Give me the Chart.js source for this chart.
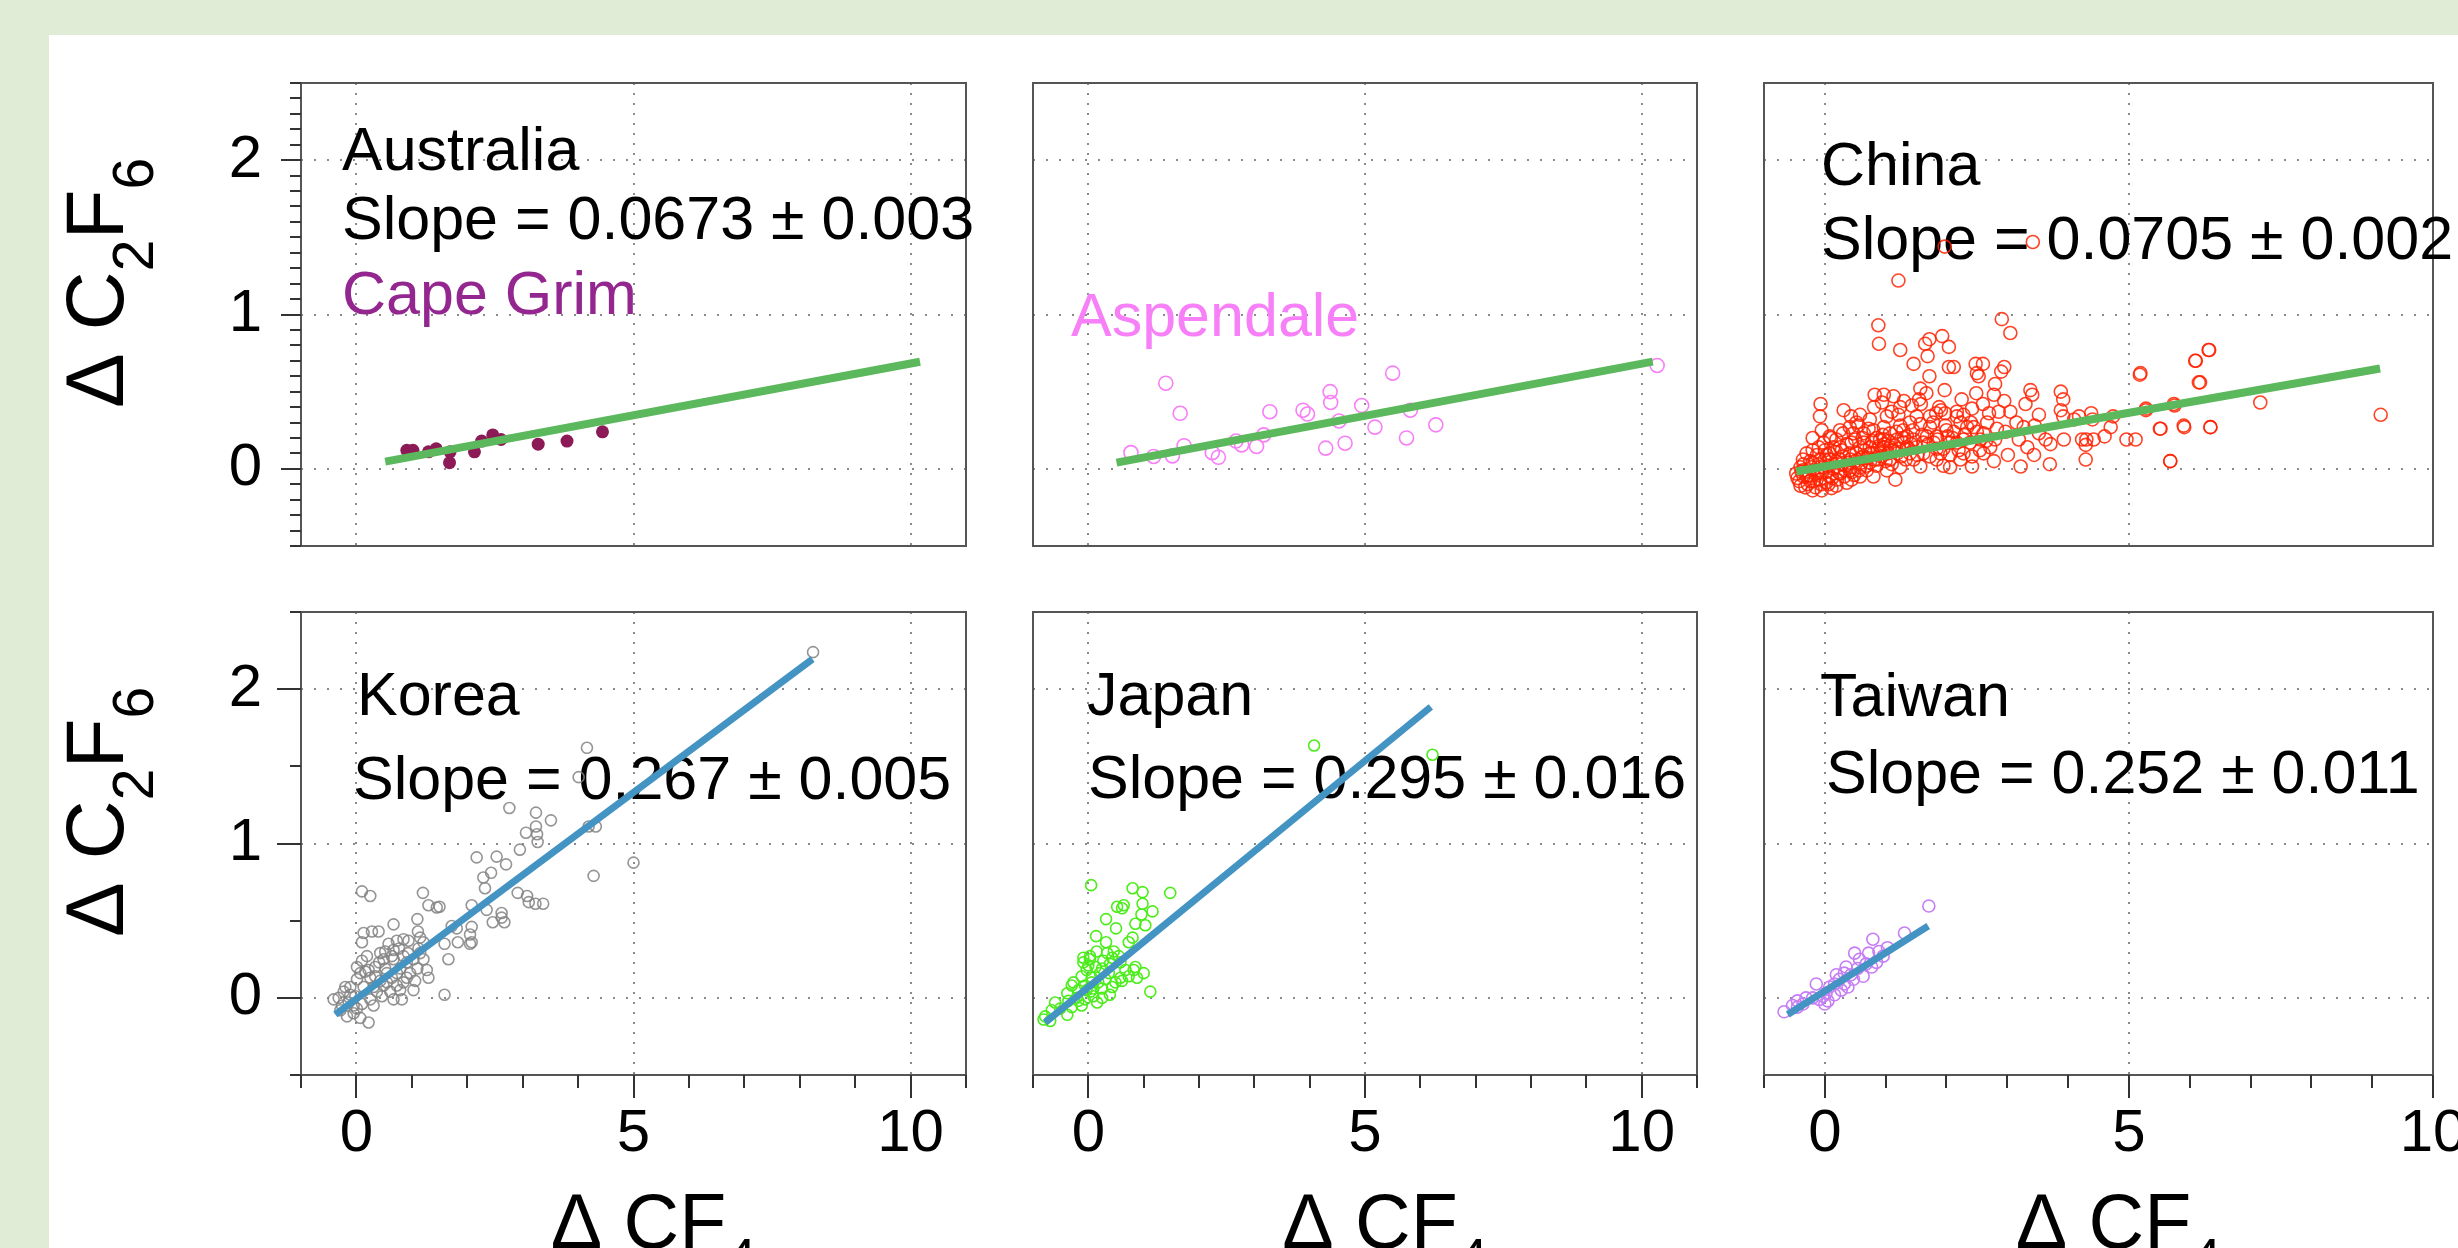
<!DOCTYPE html>
<html>
<head>
<meta charset="utf-8">
<script src="https://cdn.jsdelivr.net/npm/chart.js@4.4.1/dist/chart.umd.min.js"></script>
<style>
  html, body { margin: 0; padding: 0; }
  body { width: 2458px; height: 1248px; background: #e1ecd6; position: relative; overflow: hidden; }
  #sheet { position: absolute; left: 49px; top: 35px; right: 0; bottom: 0; background: #fff; }
  canvas { position: absolute; }
</style>
</head>
<body>
<div id="sheet"></div>
<script>
// values: [ΔCF4, ΔC2F6]
const australiaPoints = [[0.91,0.12],[1.02,0.12],[1.30,0.11],[1.44,0.13],[1.68,0.04],[1.69,0.11],[2.13,0.11],
  [2.26,0.18],[2.46,0.22],[2.61,0.19],[3.28,0.16],[3.80,0.18],[4.44,0.24]];

const aspendalePoints = [[0.77,0.105],[1.18,0.08],[1.52,0.084],[1.40,0.555],[1.66,0.36],[1.73,0.15],[2.24,0.105],
  [2.35,0.075],[2.67,0.18],[2.77,0.155],[3.04,0.145],[3.17,0.22],[3.28,0.37],[3.88,0.38],[3.96,0.355],[4.29,0.134],
  [4.37,0.50],[4.38,0.43],[4.53,0.31],[4.64,0.166],[4.94,0.41],[5.18,0.27],[5.50,0.62],[5.75,0.20],[5.82,0.38],
  [6.28,0.285],[10.28,0.67]];

const chinaPoints = [[1.21,1.22],[3.42,1.47],[1.97,1.44],[9.14,0.35],[7.16,0.43],[6.31,0.77],[6.10,0.70],[6.17,0.56],
  [5.90,0.28],[6.34,0.27],[5.51,0.26],[5.68,0.05],[5.19,0.62],[5.75,0.41],[5.28,0.39],
  [0.88,0.93],[0.89,0.81],[1.24,0.77],[1.46,0.68],[1.65,0.81],[1.72,0.84],[1.93,0.86],[2.04,0.79],[1.69,0.73],
  [1.72,0.60],[2.04,0.66],[2.12,0.66],[1.97,0.51],[2.48,0.68],[2.60,0.68],[2.50,0.62],[2.53,0.60],[2.91,0.97],
  [3.05,0.88],[2.95,0.66],[2.90,0.63],[2.80,0.55],[2.49,0.49],[2.78,0.48],[1.57,0.52],[1.67,0.49],[0.82,0.48],
  [0.97,0.48],[1.13,0.47],[-0.07,0.42],[-0.08,0.34],[-0.05,0.25],[-0.20,0.20],[0.31,0.38],[0.43,0.34],[0.58,0.35],
  [0.81,0.40],[0.94,0.43],[1.24,0.40],[1.21,0.35],[1.10,0.37],[1.43,0.41],[1.58,0.42],[1.91,0.38],[1.98,0.36],
  [1.83,0.36],[2.17,0.37],[2.28,0.35],[2.42,0.39],[2.86,0.37],[3.05,0.37],[3.30,0.42],[3.38,0.51],[3.41,0.48],
  [3.52,0.35],[3.88,0.50],[3.92,0.45],[3.88,0.38],[3.92,0.34],[4.10,0.32],[4.18,0.34],[4.38,0.36],[4.40,0.32],
  [4.74,0.34],[4.70,0.27],[4.60,0.21],[4.42,0.19],[4.30,0.19],[4.29,0.155],[4.23,0.19],[4.29,0.06],[4.96,0.19],
  [5.11,0.19],[5.18,0.61],[5.28,0.38],[5.52,0.26],[5.68,0.05],[5.74,0.42],[5.91,0.27],[6.09,0.70],[6.15,0.56],
  [6.32,0.77],[6.34,0.27],[3.93,0.19],[3.71,0.16],[3.70,0.03],[3.63,0.19],[3.44,0.09],[3.33,0.14],[3.22,0.015],
  [3.19,0.19],[3.01,0.09],[2.83,0.26],[2.97,0.24],[3.27,0.27],[3.52,0.23],[2.80,0.19],[2.72,0.14],[2.78,0.05],
  [2.61,0.10],[2.42,0.015],[2.42,0.08],[2.23,0.06],[2.06,0.09],[1.95,0.02],[1.73,0.08],[1.57,0.015],[1.46,0.06],
  [1.35,0.14],[1.19,0.10],[1.16,-0.07],[1.02,-0.01],[0.88,0.06],[0.80,-0.05],[0.69,-0.01],[0.58,0.07],[0.44,-0.07],
  [0.33,-0.01],[0.25,0.06],[0.11,-0.125],[-0.05,-0.14],[-0.20,-0.14],[-0.40,-0.11],[-0.47,-0.03],[-0.36,-0.01],
  [-0.24,0.05],[-0.13,0.09],[0.00,0.12],[0.14,0.14],[0.36,0.16],[0.50,0.19],[0.64,0.23],[0.80,0.25],[0.97,0.27],
  [1.07,0.23],[1.29,0.25],[1.40,0.30],[1.57,0.29],[1.73,0.27],[1.84,0.21],[1.98,0.28],[2.12,0.24],[2.23,0.30],
  [2.34,0.27],[2.50,0.24],[2.56,0.19],[2.28,0.19],[2.06,0.17],[1.84,0.13],[1.62,0.17],[1.46,0.19],[1.29,0.17],
  [1.07,0.14],[0.91,0.19],[0.74,0.14],[0.58,0.14],[0.41,0.10],[0.25,0.14],[0.08,0.06],[-0.02,0.01],[-0.13,-0.03],
  [-0.30,-0.05],[-0.40,0.01],[-0.24,-0.08],[-0.08,-0.07],[0.08,-0.05],[0.25,-0.03],[0.41,-0.01],[0.58,0.01],
  [0.74,0.04],[0.91,0.10],[1.07,0.06],[1.24,0.01],[1.40,0.10],[1.62,0.10],[1.84,0.06],[2.06,0.01],[2.28,0.10],
  [0.58,-0.05],[0.36,-0.09],[0.19,-0.11],[0.02,-0.09],[-0.20,-0.01],[-0.08,0.06],[0.08,0.10],[0.19,0.19],
  [0.08,0.21],[0.30,0.23],[0.41,0.27],[0.52,0.30],[0.74,0.32],[0.85,0.20],[0.47,0.23],[0.64,0.17],[0.80,0.10],
  [0.97,0.14],[1.19,0.19],[1.24,0.28],[1.35,0.21],[1.51,0.14],[1.68,0.21],[1.79,0.17],[1.90,0.10],[2.02,0.21],
  [2.17,0.17],[2.39,0.17],[2.45,0.27],[2.61,0.23],[2.67,0.30],[2.17,0.34],[1.73,0.34],[1.51,0.34],[1.02,0.34],
  [0.97,0.19],[-0.02,0.17],[-0.20,0.12],[-0.36,0.06],[-0.30,0.10],
  [-0.45,-0.06],[-0.35,0.03],[-0.28,-0.10],[-0.15,-0.12],[-0.05,-0.03],[0.05,0.02],[0.12,-0.06],[0.18,0.05],
  [0.22,-0.02],[0.30,0.08],[0.35,0.02],[0.42,0.06],[0.48,-0.04],[0.52,0.10],[0.60,0.04],[0.66,0.12],[0.70,0.07],
  [0.78,0.18],[0.85,0.02],[0.90,0.15],[0.95,0.22],[1.00,0.05],[1.05,0.18],[1.12,0.12],[1.18,0.24],[1.25,0.08],
  [1.30,0.20],[1.38,0.13],[1.45,0.25],[1.52,0.09],[1.60,0.22],[1.70,0.16],[1.78,0.30],[1.85,0.19],[1.95,0.13],
  [2.00,0.25],[2.10,0.20],[2.20,0.12],[2.30,0.22],[2.40,0.30],[2.55,0.12],[2.65,0.18],[-0.10,0.14],[0.00,0.06],
  [-0.20,0.04],[0.10,0.20],[0.25,0.25],[0.55,0.28],
  [-0.42,-0.08],[-0.38,-0.02],[-0.32,-0.12],[-0.25,-0.04],[-0.18,-0.08],[-0.12,-0.01],[-0.06,-0.10],[0.02,-0.02],
  [0.06,-0.10],[0.14,0.00],[0.20,-0.07],[0.27,0.03],[0.32,-0.05],[0.39,0.04],[0.45,-0.02],[0.50,0.05],[0.56,-0.01],
  [0.63,0.08],[0.68,0.02],[0.75,0.10],[0.82,0.06],[0.87,0.13],[0.93,0.08],[0.98,0.16],[1.04,0.10],[1.10,0.03],
  [1.15,0.15],[1.22,0.13],[1.33,0.06],[1.42,0.16],[-0.35,-0.05],[-0.22,0.01],[-0.10,0.03],[0.03,0.09],[0.16,0.11],
  [0.28,0.12],[0.44,0.17],[0.62,0.20],[0.72,0.26],[1.88,0.40],[2.25,0.45],[2.60,0.42],[2.95,0.44],[3.15,0.30],
  [1.55,0.45],[1.30,0.44],[2.70,0.36],[3.45,0.28]];

const koreaPoints = [[8.24,2.24],[4.16,1.62],[4.01,1.43],[5.00,0.876],[4.28,0.79],[4.19,1.11],[4.32,1.11],[2.76,1.23],
  [3.24,1.20],[3.51,1.15],[3.24,1.11],[3.06,1.07],[3.26,1.06],[3.27,1.01],[2.95,0.96],[2.53,0.915],[2.17,0.91],
  [2.70,0.865],[2.43,0.81],[2.29,0.78],[2.32,0.71],[2.91,0.68],[3.08,0.66],[3.11,0.62],[3.23,0.61],[3.37,0.61],
  [0.10,0.69],[0.25,0.66],[1.20,0.68],[1.30,0.60],[1.45,0.585],[1.50,0.59],[2.08,0.60],[2.35,0.57],[2.62,0.55],
  [2.46,0.49],[2.67,0.49],[2.62,0.52],[1.10,0.51],[0.67,0.476],[1.72,0.465],[1.81,0.45],[2.08,0.46],[2.05,0.41],
  [2.08,0.36],[0.13,0.42],[0.28,0.43],[0.40,0.43],[0.10,0.36],[0.85,0.38],[1.11,0.43],[1.15,0.39],[1.21,0.36],
  [1.59,0.35],[1.83,0.36],[2.05,0.35],[1.66,0.25],[1.59,0.02],[1.30,0.13],[1.27,0.18],[1.21,0.25],[1.10,0.19],
  [0.93,0.29],[0.77,0.32],[0.67,0.31],[0.64,0.27],[0.52,0.30],[0.49,0.25],[0.41,0.23],[0.19,0.27],[0.10,0.24],
  [0.01,0.20],[0.07,0.16],[0.22,0.18],[0.34,0.14],[0.55,0.16],[0.79,0.19],[0.91,0.13],[1.06,0.11],[0.79,0.05],
  [0.82,-0.01],[0.61,0.04],[0.49,0.08],[0.37,0.04],[0.25,-0.01],[0.22,-0.16],[0.07,-0.13],[-0.05,-0.10],
  [-0.17,-0.12],[-0.29,-0.08],[-0.41,-0.01],[-0.32,0.00],[-0.23,0.04],[-0.11,0.07],[-0.14,-0.03],[-0.02,0.01],
  [0.10,-0.04],[-0.05,-0.05],[-0.26,-0.05],[0.13,0.07],[0.31,0.07],[0.43,0.11],[0.55,0.10],[0.64,0.13],[0.73,0.16],
  [0.91,0.23],[1.03,0.25],[1.15,0.29],[0.97,0.16],[0.85,0.10],[0.67,-0.01],[0.46,0.01],[0.31,-0.05],[0.01,-0.07],
  [-0.11,0.02],[-0.20,0.07],[0.25,0.13],[0.01,0.12],[0.16,0.17],[0.34,0.20],[0.43,0.29],[0.58,0.35],[0.73,0.37],
  [0.94,0.37],[1.12,0.32],[0.67,0.25],[0.85,0.27],[0.52,0.19],[1.03,0.05],[0.73,0.08]];

const japanPoints = [[4.08,1.635],[6.22,1.575],[0.05,0.73],[0.80,0.71],[0.98,0.685],[1.48,0.68],[0.52,0.59],[0.64,0.60],
  [0.61,0.58],[0.98,0.61],[0.96,0.54],[1.16,0.56],[0.32,0.51],[0.85,0.48],[1.03,0.47],[0.50,0.45],[0.14,0.40],
  [0.80,0.39],[0.32,0.36],[0.73,0.36],[0.46,0.30],[0.55,0.27],[0.03,0.25],[-0.09,0.23],[0.27,0.24],[0.39,0.22],
  [-0.03,0.18],[0.85,0.20],[0.82,0.18],[1.00,0.16],[0.88,0.13],[0.73,0.14],[0.58,0.13],[0.49,0.10],[1.12,0.04],
  [0.39,0.02],[0.21,0.16],[0.06,0.13],[-0.12,0.14],[-0.27,0.10],[-0.38,0.03],[-0.30,0.08],[-0.18,0.05],[-0.06,0.08],
  [0.09,0.06],[0.18,0.10],[0.31,0.12],[0.37,0.16],[0.13,0.20],[0.00,0.21],[0.25,0.19],[0.09,0.01],[-0.06,-0.01],
  [-0.12,-0.05],[0.25,0.00],[0.16,-0.03],[0.04,0.04],[-0.21,0.00],[-0.36,-0.02],[-0.60,-0.03],[-0.51,-0.07],
  [-0.66,-0.08],[-0.78,-0.12],[-0.81,-0.14],[-0.69,-0.15],[-0.38,-0.11],[-0.30,-0.06],[-0.18,-0.02],[-0.03,0.05],
  [0.06,0.10],[0.25,0.06],[0.43,0.07],[0.61,0.11],[0.67,0.18],[0.58,0.23],[0.43,0.26],[0.03,0.27],[-0.09,0.26],
  [0.15,0.30],[0.34,0.29]];

const taiwanPoints = [[1.71,0.595],[1.31,0.42],[0.79,0.38],[1.03,0.325],[0.89,0.30],[0.72,0.29],[0.49,0.29],[0.57,0.25],
  [0.85,0.23],[0.77,0.20],[0.96,0.27],[0.35,0.20],[0.54,0.19],[0.43,0.15],[0.32,0.16],[0.19,0.15],[0.24,0.12],
  [0.38,0.07],[0.32,0.09],[0.16,0.09],[0.08,0.07],[0.02,0.03],[-0.14,0.09],[-0.03,0.01],[0.05,-0.02],[0.00,-0.04],
  [-0.09,-0.01],[-0.20,0.00],[-0.31,0.00],[-0.36,-0.04],[-0.45,-0.02],[-0.53,-0.05],[-0.67,-0.09],[-0.45,-0.06],
  [0.16,0.02],[0.27,0.05],[0.47,0.12],[0.63,0.14],[0.68,0.22]];

// regression lines as drawn: [start, end]
const australiaFitX = [0.52, 10.17], australiaFitY = [0.047, 0.694];
const aspendaleFitX = [0.51, 10.20], aspendaleFitY = [0.040, 0.695];
const chinaFitX = [-0.47, 9.13], chinaFitY = [-0.017, 0.650];
const koreaFitX = [-0.38, 8.23], koreaFitY = [-0.108, 2.195];
const japanFitX = [-0.78, 6.19], japanFitY = [-0.160, 1.885];
const taiwanFitX = [-0.61, 1.70], taiwanFitY = [-0.108, 0.465];

const regionNames = ['Australia', 'China', 'Korea', 'Japan', 'Taiwan'];
const stationNames = ['Cape Grim', 'Aspendale'];
const slopeTexts = ['Slope = 0.0673 \u00b1 0.003', 'Slope = 0.0705 \u00b1 0.002', 'Slope = 0.267 \u00b1 0.005',
  'Slope = 0.295 \u00b1 0.016', 'Slope = 0.252 \u00b1 0.011'];

const xTickLabels = [0, 5, 10];
const yTickLabels = [0, 1, 2];
const xTitleParts = [['\u0394 CF', false], ['4', true]];
const yTitleParts = [['\u0394 C', false], ['2', true], ['F', false], ['6', true]];

const FONT = '"Liberation Sans", Arial, Helvetica, sans-serif';
const GREEN = '#5cb85c', BLUE = '#4393c3';

// text with lowered small digits; align 'center' or 'left' at x
function drawSub(ctx, parts, x, base, size, align) {
  const sub = Math.round(size * 0.7), drop = size * 0.36;
  const fontOf = s => (s ? sub : size) + 'px ' + FONT;
  let total = 0;
  parts.forEach(([t, s]) => { ctx.font = fontOf(s); total += ctx.measureText(t).width; });
  if (align === 'center') x -= total / 2;
  ctx.fillStyle = '#000';
  ctx.textAlign = 'left';
  ctx.textBaseline = 'alphabetic';
  parts.forEach(([t, s]) => {
    ctx.font = fontOf(s);
    ctx.fillText(t, x, base + (s ? drop : 0));
    x += ctx.measureText(t).width;
  });
}

// box, dotted grid, tick marks, notes and axis titles (under the data)
const framePlugin = {
  id: 'frame',
  beforeDatasetsDraw(chart, args, o) {
    const ctx = chart.ctx, a = chart.chartArea;
    const xs = chart.scales.x, ys = chart.scales.y;
    const seg = (x1, y1, x2, y2) => { ctx.beginPath(); ctx.moveTo(x1, y1); ctx.lineTo(x2, y2); ctx.stroke(); };
    ctx.save();
    ctx.strokeStyle = '#8a8a8a';
    ctx.lineWidth = 2;
    ctx.setLineDash([2, 11]);
    yTickLabels.forEach(v => { const p = Math.round(ys.getPixelForValue(v)); seg(a.left, p, a.right, p); });
    ctx.setLineDash([2, 8]);
    xTickLabels.forEach(v => {
      const p = Math.round(xs.getPixelForValue(v));
      if (p < a.right - 3) seg(p, a.top, p, a.bottom);
    });
    ctx.setLineDash([]);

    ctx.strokeStyle = '#555';
    ctx.strokeRect(a.left, a.top, a.right - a.left, a.bottom - a.top);

    ctx.strokeStyle = '#333';
    if (o.yStep) {
      const n = Math.round((ys.max - ys.min) / o.yStep);
      for (let i = 0; i <= n; i++) {
        const v = ys.min + i * o.yStep;
        const major = Math.abs(v - Math.round(v)) < 1e-6;
        const p = Math.round(ys.getPixelForValue(v));
        seg(a.left, p, a.left - (major ? o.yMajor : 11), p);
      }
    }
    if (o.xTicks) {
      for (let v = xs.min; v <= xs.max; v++) {
        const p = Math.round(xs.getPixelForValue(v));
        seg(p, a.bottom, p, a.bottom + (v % 5 === 0 ? 23 : 13));
      }
    }

    ctx.font = '61px ' + FONT;
    ctx.textAlign = 'left';
    ctx.textBaseline = 'alphabetic';
    o.notes.forEach(n => {
      ctx.fillStyle = n.color || '#000';
      ctx.fillText(n.text, a.left + n.dx, a.top + n.by);
    });

    if (o.xTitle) drawSub(ctx, xTitleParts, (a.left + a.right) / 2 + 20, a.bottom + 173, 77, 'center');
    if (o.yTitle) {
      ctx.translate(a.left - 178, a.top + 325);
      ctx.rotate(-Math.PI / 2);
      drawSub(ctx, yTitleParts, 0, 0, 82, 'left');
    }
    ctx.restore();
  }
};

const cols = [
  { left: 301, width: 665, xMax: 11, L: 260, R: 70 },
  { left: 1033, width: 664, xMax: 11, L: 40, R: 40 },
  { left: 1764, width: 669, xMax: 10, L: 40, R: 25 }
];
const rows = [
  { top: 83, height: 463, T: 40, B: 40 },
  { top: 612, height: 463, T: 40, B: 173 }
];

const panels = [
  { col: 0, row: 0, pts: australiaPoints, color: '#8c1a56', filled: true, r: 6.5,
    fitX: australiaFitX, fitY: australiaFitY, fitColor: GREEN, fitWidth: 8, yStep: 0.1, yMajor: 20,
    notes: [{ text: regionNames[0], dx: 41, by: 87 }, { text: slopeTexts[0], dx: 41, by: 156 },
            { text: stationNames[0], dx: 41, by: 231, color: '#93268f' }] },
  { col: 1, row: 0, pts: aspendalePoints, color: '#f77ff7', filled: false, r: 7,
    fitX: aspendaleFitX, fitY: aspendaleFitY, fitColor: GREEN, fitWidth: 8,
    notes: [{ text: stationNames[1], dx: 38, by: 253, color: '#f77ff7' }] },
  { col: 2, row: 0, pts: chinaPoints, color: 'rgba(255,34,0,0.85)', filled: false, r: 6.5,
    fitX: chinaFitX, fitY: chinaFitY, fitColor: GREEN, fitWidth: 8,
    notes: [{ text: regionNames[1], dx: 57, by: 102 }, { text: slopeTexts[1], dx: 57, by: 176 }] },
  { col: 0, row: 1, pts: koreaPoints, color: 'rgba(130,130,130,0.85)', filled: false, r: 5.5,
    fitX: koreaFitX, fitY: koreaFitY, fitColor: BLUE, fitWidth: 7, yStep: 0.5, yMajor: 24,
    notes: [{ text: regionNames[2], dx: 56, by: 103 }, { text: slopeTexts[2], dx: 52, by: 187 }] },
  { col: 1, row: 1, pts: japanPoints, color: '#4ded1c', filled: false, r: 5.5,
    fitX: japanFitX, fitY: japanFitY, fitColor: BLUE, fitWidth: 7,
    notes: [{ text: regionNames[3], dx: 54, by: 103 }, { text: slopeTexts[3], dx: 55, by: 186 }] },
  { col: 2, row: 1, pts: taiwanPoints, color: '#c77df5', filled: false, r: 6,
    fitX: taiwanFitX, fitY: taiwanFitY, fitColor: BLUE, fitWidth: 7,
    notes: [{ text: regionNames[4], dx: 56, by: 104 }, { text: slopeTexts[4], dx: 62, by: 181 }] }
];

Chart.defaults.font.family = FONT;
Chart.defaults.color = '#000';

// fixed axis sizes, no label overflow padding
function fixBox(s, size) {
  if (s.isHorizontal()) s.height = size; else s.width = size;
  s.paddingLeft = s.paddingRight = s.paddingTop = s.paddingBottom = 0;
}

panels.forEach(p => {
  const c = cols[p.col], r = rows[p.row];
  const showY = p.col === 0, showX = p.row === 1;
  const canvas = document.createElement('canvas');
  const w = c.width + c.L + c.R, h = r.height + r.T + r.B;
  canvas.width = w; canvas.height = h;
  canvas.style.left = (c.left - c.L) + 'px';
  canvas.style.top = (r.top - r.T) + 'px';
  canvas.style.width = w + 'px'; canvas.style.height = h + 'px';
  document.body.appendChild(canvas);

  new Chart(canvas, {
    type: 'scatter',
    data: {
      datasets: [
        { data: p.fitX.map((x, i) => ({ x, y: p.fitY[i] })), showLine: true, pointRadius: 0,
          borderColor: p.fitColor, borderWidth: p.fitWidth, borderCapStyle: 'butt' },
        { data: p.pts.map(([x, y]) => ({ x, y })), pointStyle: 'circle', pointRadius: p.r,
          borderWidth: p.filled ? 0 : 1.6, borderColor: p.color,
          backgroundColor: p.filled ? p.color : 'rgba(0,0,0,0)' }
      ]
    },
    options: {
      responsive: false, animation: false, devicePixelRatio: 1, events: [],
      layout: { autoPadding: false,
        padding: { left: showY ? 0 : c.L, right: c.R, top: r.T, bottom: showX ? 0 : r.B } },
      plugins: {
        legend: { display: false }, tooltip: { enabled: false },
        frame: { notes: p.notes, yStep: p.yStep, yMajor: p.yMajor, xTicks: showX, xTitle: showX, yTitle: showY }
      },
      scales: {
        x: { type: 'linear', position: 'bottom', min: -1, max: c.xMax, display: showX,
          grid: { display: false, drawTicks: false }, border: { display: false },
          afterBuildTicks: s => { s.ticks = xTickLabels.map(v => ({ value: v })); },
          afterFit: s => fixBox(s, showX ? r.B : 0),
          ticks: { font: { size: 60 }, padding: 23, maxRotation: 0, autoSkip: false } },
        y: { type: 'linear', min: -0.5, max: 2.5, display: showY,
          grid: { display: false, drawTicks: false }, border: { display: false },
          afterBuildTicks: s => { s.ticks = yTickLabels.map(v => ({ value: v })); },
          afterFit: s => fixBox(s, showY ? c.L : 0),
          ticks: { font: { size: 60 }, padding: 39, autoSkip: false } }
      }
    },
    plugins: [framePlugin]
  });
});
</script>
</body>
</html>
